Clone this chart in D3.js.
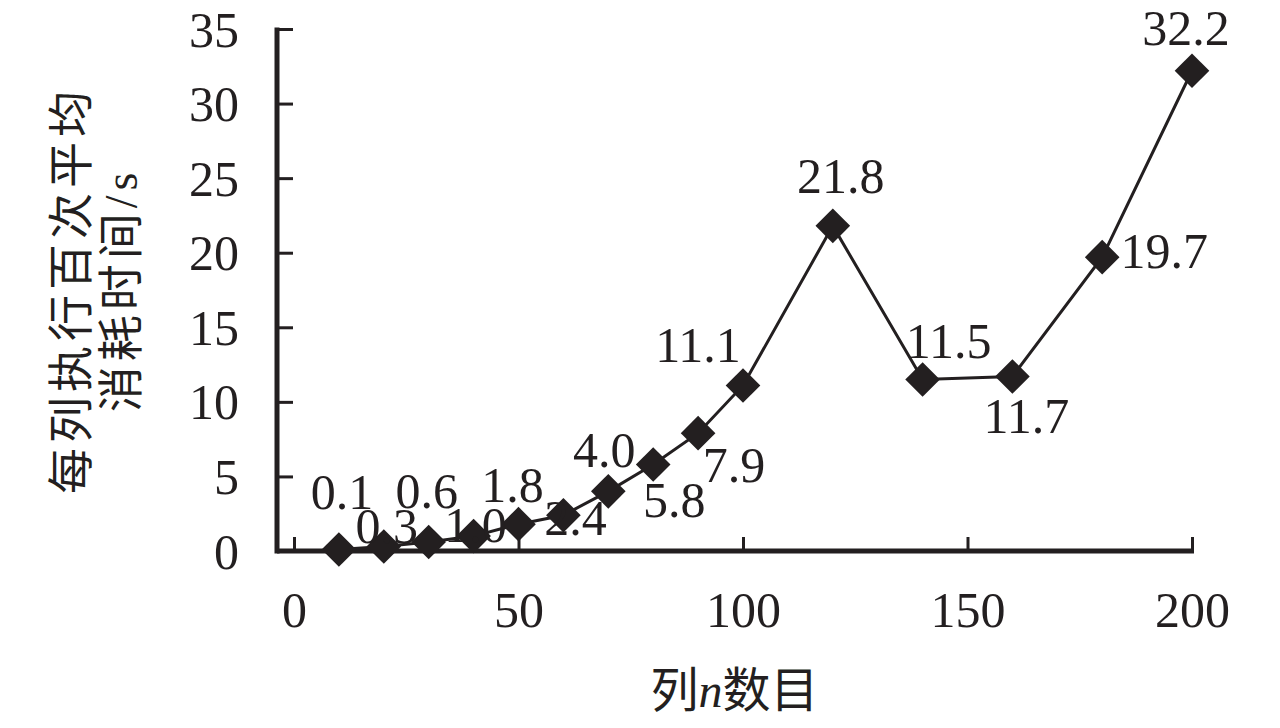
<!DOCTYPE html>
<html>
<head>
<meta charset="utf-8">
<script src="https://cdn.jsdelivr.net/npm/d3@7"></script>
<style>
  html, body { margin: 0; padding: 0; background: #fff; }
  svg { display: block; }
</style>
</head>
<body>
<svg id="chart" width="1280" height="728"></svg>
<script>
// ---- data ----
const columns = [10, 20, 30, 40, 50, 60, 70, 80, 90, 100, 120, 140, 160, 180, 200];
const avgTime = [0.1, 0.3, 0.6, 1.0, 1.8, 2.4, 4.0, 5.8, 7.9, 11.1, 21.8, 11.5, 11.7, 19.7, 32.2];
const labelText = ["0.1", "0.3", "0.6", "1.0", "1.8", "2.4", "4.0", "5.8", "7.9", "11.1", "21.8", "11.5", "11.7", "19.7", "32.2"];
const xTicks = [0, 50, 100, 150, 200];
const yTicks = [0, 5, 10, 15, 20, 25, 30, 35];
const xTitleParts = ["列", "n", "数目"];
const yTitleLines = ["每列执行百次平均", "消耗时间/s"];

// label placement (style): offset of label centre/baseline from point, px
const labelOffsets = [
  [3, -41], [3, -4], [-2, -34], [2, 6], [-6, -22], [12, 20], [-4, -24], [21, 53],
  [36, 49], [-45, -23], [8, -33], [26, -21], [14, 56], [62, 11], [-6, -26]
];

const ink = "#231f20";
const numFont = "'Liberation Serif', 'Times New Roman', serif";
const cjkFont = "'Liberation Serif', 'Noto Sans CJK SC', serif";

const svg = d3.select("#chart");

const x = d3.scaleLinear().domain([0, 200]).range([294, 1192]);
const y = d3.scaleLinear().domain([0, 35]).range([551, 29]);
const axisX = x(0) - 17; // y-axis position (left of the 0 tick)

// ---- x axis ----
const gx = svg.append("g").attr("transform", `translate(0,${y(0)})`);
gx.call(d3.axisBottom(x).tickValues(xTicks).tickSize(-14).tickPadding(0).tickFormat(d3.format("d")));
gx.select(".domain").remove();
gx.selectAll(".tick line").attr("stroke", ink).attr("stroke-width", 3);
gx.selectAll(".tick text")
  .attr("fill", ink).attr("font-family", numFont).attr("font-size", 50)
  .attr("dy", null).attr("y", 76);
gx.append("line")
  .attr("x1", axisX).attr("x2", x(200) + 2)
  .attr("y1", 0).attr("y2", 0)
  .attr("stroke", ink).attr("stroke-width", 5);

// ---- y axis ----
const gy = svg.append("g").attr("transform", `translate(${axisX},0)`);
gy.call(d3.axisLeft(y).tickValues(yTicks).tickSize(-16).tickPadding(0).tickFormat(d3.format("d")));
gy.select(".domain").remove();
gy.selectAll(".tick line").attr("stroke", ink).attr("stroke-width", 3);
gy.selectAll(".tick text")
  .attr("fill", ink).attr("font-family", numFont).attr("font-size", 50)
  .attr("text-anchor", "end").attr("x", -38).attr("dy", null).attr("y", 17);
gy.append("line")
  .attr("x1", 0).attr("x2", 0)
  .attr("y1", y(35) - 1.5).attr("y2", y(0) + 2.5)
  .attr("stroke", ink).attr("stroke-width", 5);

// ---- series line ----
const pts = columns.map((c, i) => ({ c, v: avgTime[i], t: labelText[i], o: labelOffsets[i] }));
svg.append("path")
  .datum(pts)
  .attr("fill", "none").attr("stroke", ink).attr("stroke-width", 3)
  .attr("d", d3.line().x(d => x(d.c)).y(d => y(d.v)));

// ---- markers (diamonds) ----
const diamond = d3.symbol().type(d3.symbolSquare).size(600);
svg.append("g").selectAll("path")
  .data(pts).join("path")
  .attr("d", diamond)
  .attr("fill", ink)
  .attr("transform", d => `translate(${x(d.c)},${y(d.v)}) rotate(45)`);

// ---- data labels ----
svg.append("g").selectAll("text")
  .data(pts).join("text")
  .attr("x", d => x(d.c) + d.o[0])
  .attr("y", d => y(d.v) + d.o[1])
  .attr("text-anchor", "middle")
  .attr("font-family", numFont).attr("font-size", 50)
  .attr("fill", ink)
  .text(d => d.t);

// ---- x title ----
const xt = svg.append("text")
  .attr("x", (axisX + x(200)) / 2).attr("y", 707)
  .attr("text-anchor", "middle")
  .attr("font-family", cjkFont).attr("font-size", 48).attr("fill", ink);
xt.append("tspan").text(xTitleParts[0]);
xt.append("tspan").attr("font-style", "italic").attr("font-family", numFont).text(xTitleParts[1]);
xt.append("tspan").text(xTitleParts[2]);

// ---- y title ----
const yTitleX = [71, 121];
yTitleLines.forEach((line, i) => {
  svg.append("text")
    .attr("transform", `translate(${yTitleX[i]},290) rotate(-90)`)
    .attr("text-anchor", "middle")
    .attr("dominant-baseline", "central")
    .attr("font-family", cjkFont).attr("font-size", 46)
    .attr("letter-spacing", 5)
    .attr("fill", ink)
    .text(line);
});
</script>
</body>
</html>
